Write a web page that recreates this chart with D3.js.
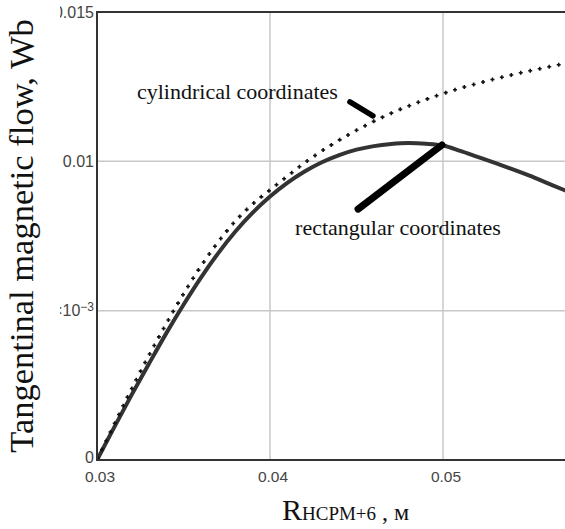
<!DOCTYPE html>
<html>
<head>
<meta charset="utf-8">
<script src="https://cdn.jsdelivr.net/npm/d3@7"></script>
<style>
  body { margin: 0; background: #fff; }
  svg { display: block; }
</style>
</head>
<body>
<div id="main"></div>
<script>
// radius values (m)
const xValues = [0.030, 0.031, 0.032, 0.033, 0.034, 0.035, 0.036, 0.037, 0.038, 0.039,
                 0.040, 0.041, 0.042, 0.043, 0.044, 0.045, 0.046, 0.047, 0.048, 0.049,
                 0.050, 0.051, 0.052, 0.053, 0.054, 0.055, 0.056, 0.057, 0.058]
// tangential magnetic flow (Wb)
const rectangular = [0, 0.00110, 0.00218, 0.00322, 0.00424, 0.00520, 0.00610, 0.00692, 0.00765, 0.00828,
                     0.00882, 0.00928, 0.00966, 0.00997, 0.01021, 0.01039, 0.01051, 0.01058, 0.01061, 0.01059,
                     0.01053, 0.01035, 0.01015, 0.00995, 0.00974, 0.00952, 0.00928, 0.00904, 0.00879]
const cylindrical = [0, 0.00120, 0.00238, 0.00350, 0.00456, 0.00556, 0.00648, 0.00730, 0.00800, 0.00857,
                     0.00904, 0.00950, 0.00995, 0.01035, 0.01071, 0.01104, 0.01134, 0.01161, 0.01185, 0.01207,
                     0.01227, 0.01245, 0.01261, 0.01276, 0.01290, 0.01303, 0.01315, 0.01327, 0.01338]

const xTicks = [0.03, 0.04, 0.05]
const xTickLabels = ['0.03', '0.04', '0.05']
const yTicks = [0, 0.005, 0.01, 0.015]
const yTickLabels = ['0', '5\u00d710', '0.01', '0.015']

// annotation labels and pointers, in data units
const labelNames = ['cylindrical coordinates', 'rectangular coordinates']
const labelX = [0.03231, 0.04145]
const labelY = [0.01209, 0.00753]
const pointerFrom = [[0.04462, 0.01199], [0.04509, 0.00840]]
const pointerTo = [[0.04595, 0.01152], [0.04994, 0.01055]]
const pointerWidth = [5.5, 7]

const width = 565
const height = 529
const margin = {left: 97, top: 12}
const plotH = 448

const svg = d3.select('#main')
              .append('svg')
              .attr('width', width)
              .attr('height', height)

const x = d3.scaleLinear().domain([0.03, 0.06]).range([margin.left, margin.left + 519])
const y = d3.scaleLinear().domain([0, 0.015]).range([margin.top + plotH, margin.top])

const defs = svg.append('defs')
defs.append('clipPath').attr('id', 'plotclip')
    .append('rect')
    .attr('x', margin.left).attr('y', margin.top)
    .attr('width', width - margin.left).attr('height', plotH)
defs.append('clipPath').attr('id', 'labelclip')
    .append('rect')
    .attr('x', 60).attr('y', 0)
    .attr('width', 40).attr('height', height)

// grid
svg.append('g')
    .selectAll('line')
    .data(xTicks.slice(1))
    .enter()
    .append('line')
    .attr('x1', (d) => x(d)).attr('x2', (d) => x(d))
    .attr('y1', y(0)).attr('y2', y(0.015))
    .attr('stroke', '#c8c8c8')
    .attr('stroke-width', 1.5)

svg.append('g')
    .selectAll('line')
    .data(yTicks.slice(1, 3))
    .enter()
    .append('line')
    .attr('x1', x(0.03)).attr('x2', width)
    .attr('y1', (d) => y(d)).attr('y2', (d) => y(d))
    .attr('stroke', '#c8c8c8')
    .attr('stroke-width', 1.5)

const plot = svg.append('g').attr('clip-path', 'url(#plotclip)')

const line = d3.line()
               .x((d) => x(d[0]))
               .y((d) => y(d[1]))
               .curve(d3.curveMonotoneX)

plot.append('path')
    .datum(xValues.map((v, i) => [v, rectangular[i]]))
    .attr('d', line)
    .attr('fill', 'none')
    .attr('stroke', '#333')
    .attr('stroke-width', 4)

// dotted curve drawn as small plus markers along the path
const cylPath = plot.append('path')
    .datum(xValues.map((v, i) => [v, cylindrical[i]]))
    .attr('d', line)
    .attr('fill', 'none')
    .attr('stroke', 'none')

const node = cylPath.node()
const total = node.getTotalLength()
const marks = d3.range(2, total, 9.7).map((l) => node.getPointAtLength(l))
plot.append('g')
    .selectAll('path')
    .data(marks)
    .enter()
    .append('path')
    .attr('d', (p) => `M${p.x - 2},${p.y}H${p.x + 2}M${p.x},${p.y - 2}V${p.y + 2}`)
    .attr('stroke', '#111')
    .attr('stroke-width', 1.6)

// axes frame
svg.append('line')
    .attr('x1', x(0.03)).attr('x2', x(0.03))
    .attr('y1', y(0.015) - 1).attr('y2', y(0) + 1)
    .attr('stroke', '#333').attr('stroke-width', 2)
svg.append('line')
    .attr('x1', x(0.03)).attr('x2', width)
    .attr('y1', y(0)).attr('y2', y(0))
    .attr('stroke', '#333').attr('stroke-width', 2)
svg.append('line')
    .attr('x1', x(0.03)).attr('x2', width)
    .attr('y1', y(0.015)).attr('y2', y(0.015))
    .attr('stroke', '#333').attr('stroke-width', 2)

// tick labels
svg.append('g')
    .attr('clip-path', 'url(#labelclip)')
    .selectAll('text')
    .data(yTicks)
    .enter()
    .append('text')
    .attr('x', x(0.03) - 3)
    .attr('y', (d) => d === 0 ? y(d) - 3 : y(d))
    .attr('dy', '0.36em')
    .attr('text-anchor', 'end')
    .style('font-family', '"Liberation Sans", Arial, sans-serif')
    .style('font-size', '16px')
    .style('fill', '#444')
    .each(function (d, i) {
        const t = d3.select(this)
        t.append('tspan').text(yTickLabels[i])
        if (d === 0.005) {
            t.append('tspan').attr('dy', '-0.45em').style('font-size', '12px').text('\u22123')
        }
    })

svg.append('g')
    .selectAll('text')
    .data(xTicks)
    .enter()
    .append('text')
    .attr('x', (d) => x(d) + 3)
    .attr('y', y(0) + 22)
    .attr('text-anchor', 'middle')
    .style('font-family', '"Liberation Sans", Arial, sans-serif')
    .style('font-size', '15.5px')
    .style('fill', '#444')
    .text((d, i) => xTickLabels[i])

// pointers
svg.append('g')
    .selectAll('line')
    .data(pointerFrom)
    .enter()
    .append('line')
    .attr('x1', (d) => x(d[0])).attr('y1', (d) => y(d[1]))
    .attr('x2', (d, i) => x(pointerTo[i][0])).attr('y2', (d, i) => y(pointerTo[i][1]))
    .attr('stroke', '#000')
    .attr('stroke-width', (d, i) => pointerWidth[i])
    .attr('stroke-linecap', 'round')

svg.append('g')
    .selectAll('text')
    .data(labelNames)
    .enter()
    .append('text')
    .attr('x', (d, i) => x(labelX[i]))
    .attr('y', (d, i) => y(labelY[i]))
    .style('font-family', '"Liberation Serif", "Times New Roman", serif')
    .style('font-size', '22px')
    .style('fill', '#111')
    .text((d) => d)

// axis titles
svg.append('text')
    .attr('transform', 'translate(33,236) rotate(-90)')
    .attr('text-anchor', 'middle')
    .style('font-family', '"Liberation Serif", "Times New Roman", serif')
    .style('font-size', '34.5px')
    .style('fill', '#111')
    .text('Tangentinal magnetic flow, Wb')

const xt = svg.append('text')
    .attr('x', 282)
    .attr('y', 520)
    .style('font-family', '"Liberation Serif", "Times New Roman", serif')
    .style('fill', '#111')
xt.append('tspan').style('font-size', '30px').text('R')
xt.append('tspan').style('font-size', '19px').text('HCPM+6')
xt.append('tspan').style('font-size', '24px').text(' , \u043c')
</script>
</body>
</html>
